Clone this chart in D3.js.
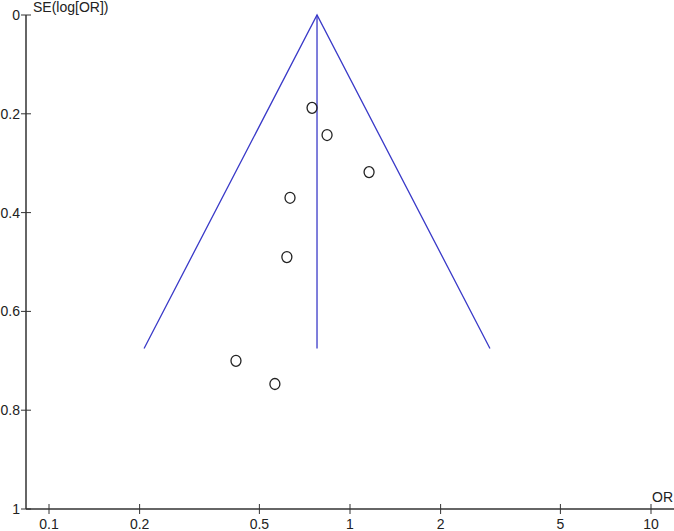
<!DOCTYPE html>
<html>
<head>
<meta charset="utf-8">
<script src="https://cdn.jsdelivr.net/npm/d3@7/dist/d3.min.js"></script>
<style>
  body { margin: 0; background: #fff; }
  svg { display: block; }
  text { font-family: "Liberation Sans Narrow", "Liberation Sans", Arial, sans-serif; font-size: 14px; fill: #222; }
</style>
</head>
<body>
<svg width="674" height="531"></svg>
<script>
// study odds ratios and standard errors
var studyOR = [0.748, 0.839, 1.157, 0.632, 0.617, 0.418, 0.563];
var studySE = [0.188, 0.243, 0.318, 0.370, 0.490, 0.700, 0.747];
// pooled estimate and funnel depth
var pooledOR = 0.777;
var funnelSE = 0.675;
// tick labels
var xTicks = [0.1, 0.2, 0.5, 1, 2, 5, 10];
var yTicks = [0, 0.2, 0.4, 0.6, 0.8, 1];

var svg = d3.select("svg");

var x = d3.scaleLog().domain([0.1, 10]).range([49, 651]);
var y = d3.scaleLinear().domain([0, 1]).range([15, 509]);

var axisColor = "#333";

// y axis line
svg.append("line")
    .attr("x1", 26).attr("x2", 26)
    .attr("y1", y(0)).attr("y2", y(1))
    .attr("stroke", axisColor).attr("stroke-width", 1.5);

// x axis line
svg.append("line")
    .attr("x1", 26).attr("x2", 674)
    .attr("y1", y(1)).attr("y2", y(1))
    .attr("stroke", axisColor).attr("stroke-width", 1.5);

// y ticks
svg.selectAll(".ytick").data(yTicks).enter().append("line")
    .attr("x1", 21).attr("x2", 31)
    .attr("y1", function(d) { return y(d); })
    .attr("y2", function(d) { return y(d); })
    .attr("stroke", axisColor).attr("stroke-width", 1);

svg.selectAll(".ylab").data(yTicks).enter().append("text")
    .attr("x", 20)
    .attr("y", function(d) { return y(d) + 5; })
    .attr("text-anchor", "end")
    .text(function(d) { return d; });

// x ticks
svg.selectAll(".xtick").data(xTicks).enter().append("line")
    .attr("x1", function(d) { return x(d); })
    .attr("x2", function(d) { return x(d); })
    .attr("y1", y(1) - 5).attr("y2", y(1) + 5)
    .attr("stroke", axisColor).attr("stroke-width", 1);

svg.selectAll(".xlab").data(xTicks).enter().append("text")
    .attr("x", function(d) { return x(d); })
    .attr("y", y(1) + 20)
    .attr("text-anchor", "middle")
    .text(function(d) { return d; });

// axis titles
svg.append("text").attr("x", 33).attr("y", 12).text("SE(log[OR])");
svg.append("text").attr("x", 652).attr("y", 502).text("OR");

// funnel
var lnP = Math.log(pooledOR);
var funnel = [
    [Math.exp(lnP - 1.96 * funnelSE), funnelSE],
    [pooledOR, 0],
    [Math.exp(lnP + 1.96 * funnelSE), funnelSE]
];
var blue = "#3a3ac8";
svg.append("path")
    .attr("d", d3.line()
        .x(function(d) { return x(d[0]); })
        .y(function(d) { return y(d[1]); })(funnel))
    .attr("fill", "none").attr("stroke", blue).attr("stroke-width", 1.3);

svg.append("line")
    .attr("x1", x(pooledOR)).attr("x2", x(pooledOR))
    .attr("y1", y(0)).attr("y2", y(funnelSE))
    .attr("stroke", blue).attr("stroke-width", 1.3);

// study points
svg.selectAll(".pt").data(studyOR).enter().append("ellipse")
    .attr("cx", function(d) { return x(d); })
    .attr("cy", function(d, i) { return y(studySE[i]); })
    .attr("rx", 5).attr("ry", 5.5)
    .attr("fill", "none").attr("stroke", "#222").attr("stroke-width", 1.3);
</script>
</body>
</html>
